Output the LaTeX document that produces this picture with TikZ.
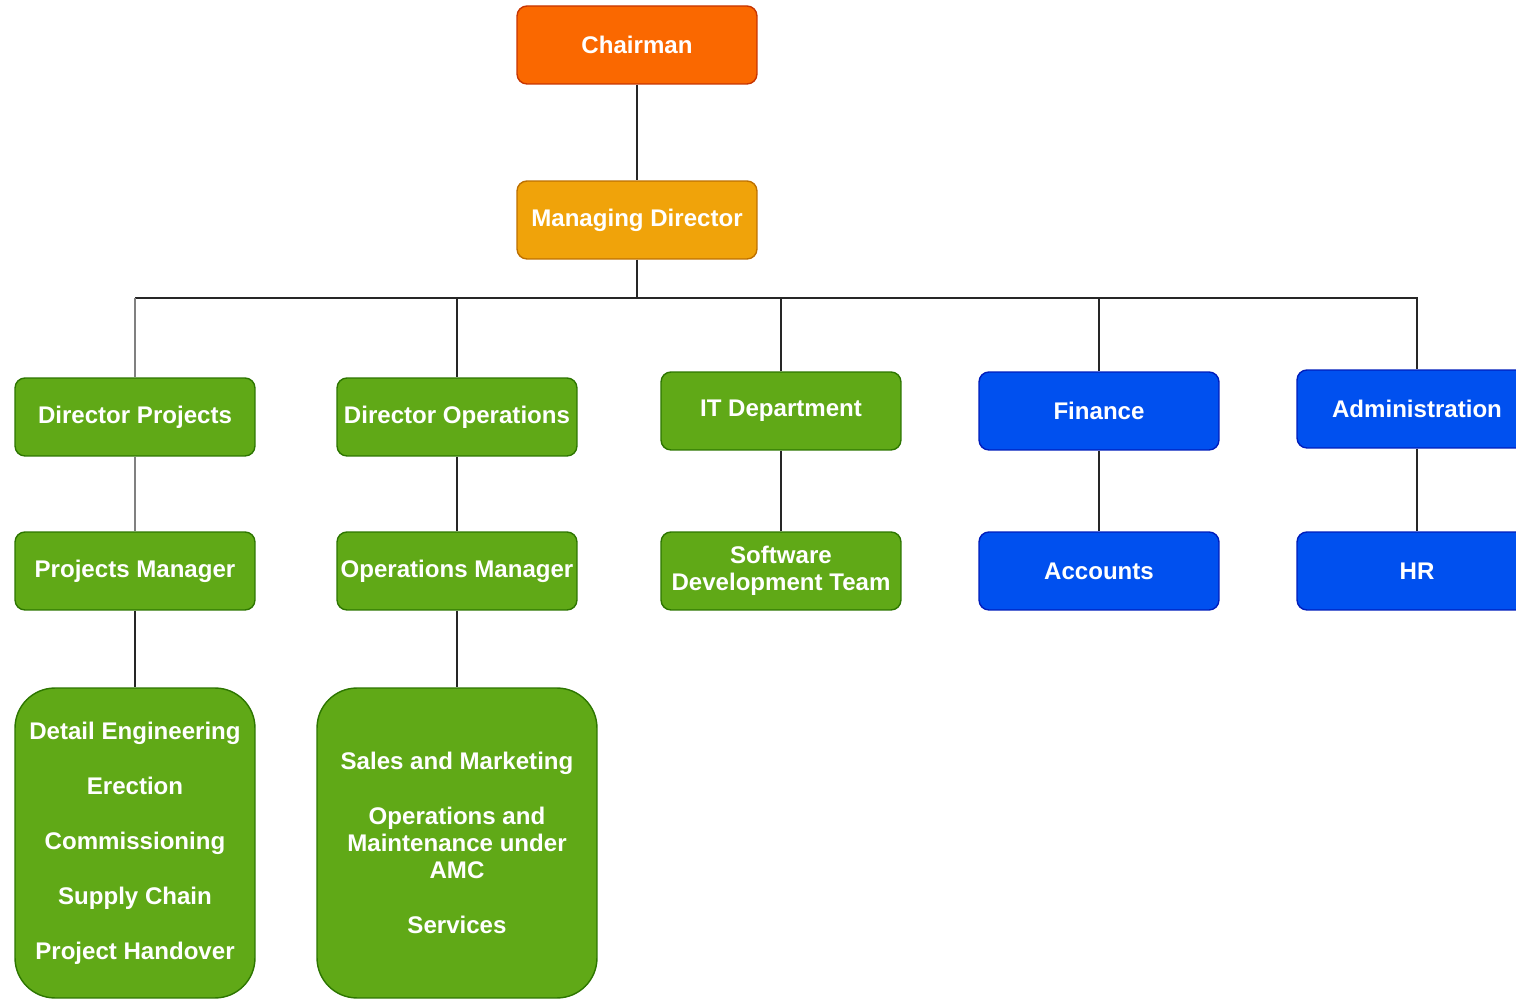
\documentclass[tikz,border=0pt]{standalone}
\usepackage{fontspec}
\setmainfont{Liberation Sans}
\usetikzlibrary{positioning}
\definecolor{chairfill}{HTML}{FA6800}
\definecolor{chairline}{HTML}{C73500}
\definecolor{mdfill}{HTML}{F0A30A}
\definecolor{mdline}{HTML}{BD7000}
\definecolor{grfill}{HTML}{60A917}
\definecolor{grline}{HTML}{2D7600}
\definecolor{blfill}{HTML}{0050EF}
\definecolor{blline}{HTML}{001DBC}
\begin{document}
\begin{tikzpicture}[x=0.02cm,y=-0.02cm,
	box/.style={draw,line width=0.8pt,rounded corners=0.2cm,minimum width=4.8cm,minimum height=1.56cm,
		inner sep=0pt,align=center,text=white,font=\fontsize{13.7}{15.4}\selectfont\bfseries},
	orangebox/.style={box,fill=chairfill,draw=chairline},
	yellowbox/.style={box,fill=mdfill,draw=mdline},
	greenbox/.style={box,fill=grfill,draw=grline},
	bluebox/.style={box,fill=blfill,draw=blline},
	listbox/.style={greenbox,rounded corners=0.8cm,minimum height=6.2cm},
	link/.style={line width=1.1pt,black!85},
	greylink/.style={line width=1.1pt,black!50}]
	\clip (0,0) rectangle (1516,999);
	%TOP
	\node[orangebox] (chair) at (637,45) {Chairman};
	\node[yellowbox] (md) at (637,220) {Managing Director};
	\coordinate (bus) at (637,298);
	%DEPARTMENTS
	\node[greenbox] (dirproj) at (135,417) {Director Projects};
	\node[greenbox] (dirops) at (457,417) {Director Operations};
	\node[greenbox] (itdep) at (781,411) {IT Department};
	\node[bluebox] (fin) at (1099,411) {Finance};
	\node[bluebox] (admin) at (1417,409) {Administration};
	%SECOND ROW
	\node[greenbox] (projman) at (135,571) {Projects Manager};
	\node[greenbox] (opsman) at (457,571) {Operations Manager};
	\node[greenbox] (softdev) at (781,571) {Software\\Development Team};
	\node[bluebox] (acc) at (1099,571) {Accounts};
	\node[bluebox] (hr) at (1417,571) {HR};
	%LISTS
	\node[listbox] (projlist) at (135,843) {Detail Engineering\\[0.56cm]Erection\\[0.56cm]Commissioning\\[0.56cm]Supply Chain\\[0.56cm]Project Handover};
	\node[listbox,minimum width=5.6cm] (opslist) at (457,843) {Sales and Marketing\\[0.56cm]Operations and\\Maintenance under\\AMC\\[0.56cm]Services};
	%LINKS
	\draw[link] (chair) -- (md);
	\draw[link] (md) -- (bus);
	\draw[link] (bus) -- (dirproj.north |- bus);
	\draw[greylink] (dirproj.north |- bus) -- (dirproj);
	\draw[link] (bus) -| (dirops);
	\draw[link] (bus) -| (itdep);
	\draw[link] (bus) -| (fin);
	\draw[link] (bus) -| (admin);
	\draw[greylink] (dirproj) -- (projman);
	\draw[link] (dirops) -- (opsman);
	\draw[link] (itdep) -- (softdev);
	\draw[link] (fin) -- (acc);
	\draw[link] (admin) -- (hr);
	\draw[link] (projman) -- (projlist);
	\draw[link] (opsman) -- (opslist);
\end{tikzpicture}
\end{document}
